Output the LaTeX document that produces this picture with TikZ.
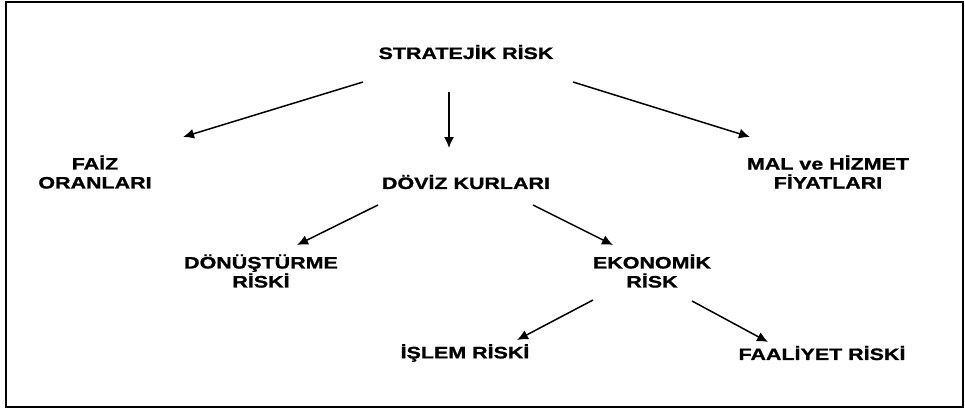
\documentclass[tikz,border=0pt]{standalone}
\usepackage{fontspec}
\setmainfont{Liberation Sans}[FakeStretch=1.3, BoldFeatures={FakeBold=1.2}]
\usetikzlibrary{arrows.meta}
\begin{document}
\begin{tikzpicture}[x=1pt,y=-1pt]
            \tikzset{
                lbl/.style={font=\fontsize{16.5}{19}\selectfont\bfseries, align=center, inner sep=0pt},
                arr/.style={-{Latex[length=11pt,width=10pt]}, line width=1.5pt},}
            \useasboundingbox (0,0) rectangle (965,409);
            \draw [line width=1.6pt](6,2) rectangle (963,407);
            \node [lbl] (strat) at (466,52) {STRATEJİK RİSK};
            \node [lbl] (faiz) at (95,172) {FAİZ\\ORANLARI};
            \node [lbl] (doviz) at (466,182) {DÖVİZ KURLARI};
            \node [lbl] (mal) at (828,172) {MAL ve HİZMET\\FİYATLARI};
            \node [lbl] (donus) at (261,271) {DÖNÜŞTÜRME\\RİSKİ};
            \node [lbl] (ekon) at (652,271) {EKONOMİK\\RİSK};
            \node [lbl] (islem) at (465,353) {İŞLEM RİSKİ};
            \node [lbl] (faal) at (822,353) {FAALİYET RİSKİ};
            % first level
            \draw [arr]([shift={(-103,30)}]strat.center) -- ([shift={(88,-35)}]faiz.center);
            \draw [arr]([shift={(-17,40)}]strat.center) -- ([shift={(-17,-34)}]doviz.center);
            \draw [arr]([shift={(107,30)}]strat.center) -- ([shift={(-78,-35)}]mal.center);
            % second level
            \draw [arr]([shift={(-88,23)}]doviz.center) -- ([shift={(36,-26)}]donus.center);
            \draw [arr]([shift={(67,23)}]doviz.center) -- ([shift={(-39,-26)}]ekon.center);
            \draw [arr]([shift={(-59,29)}]ekon.center) -- ([shift={(52,-13)}]islem.center);
            \draw [arr]([shift={(40,30)}]ekon.center) -- ([shift={(-54,-11)}]faal.center);
        \end{tikzpicture}
\end{document}
